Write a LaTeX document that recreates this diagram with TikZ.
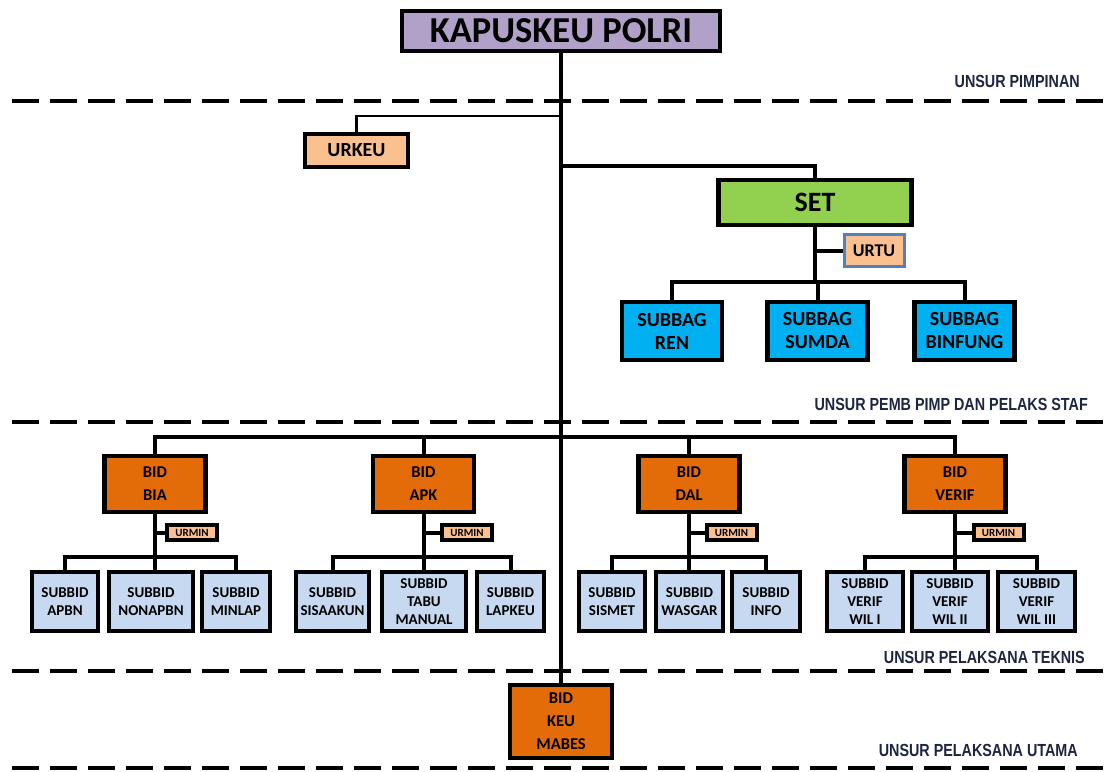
\documentclass[tikz,border=0pt]{standalone}
\usepackage{fontspec}
\setmainfont{Carlito}
\newfontfamily\lblfont[FakeStretch=0.82]{Liberation Sans}
\usetikzlibrary{shadows}
\definecolor{lav}{HTML}{B1A0C7}
\definecolor{peach}{HTML}{FAC090}
\definecolor{setgreen}{HTML}{92D050}
\definecolor{cyanbox}{HTML}{00B0F0}
\definecolor{bidor}{HTML}{E36C09}
\definecolor{subblue}{HTML}{C6D9F1}
\definecolor{urtuborder}{HTML}{4F81BD}
\definecolor{navy}{HTML}{1C2541}
\tikzset{
  box/.style={draw=black, line width=4.5pt, inner sep=0pt, align=center,
    text=black, font=\bfseries,
    drop shadow={shadow xshift=1.5pt, shadow yshift=-1.5pt, fill=black!25, opacity=0.6}},
  kapbox/.style={box, fill=lav, minimum width=318pt, minimum height=40pt,
    font=\bfseries\fontsize{36.5}{38}\selectfont},
  urbox/.style={box, fill=peach, minimum width=103pt, minimum height=33pt,
    font=\bfseries\fontsize{20}{22}\selectfont},
  setbox/.style={box, fill=setgreen, minimum width=193pt, minimum height=45pt,
    font=\bfseries\fontsize{28}{30}\selectfont},
  urtubox/.style={draw=urtuborder, line width=3pt, inner sep=0pt, align=center, text=black, fill=peach, minimum width=60pt, minimum height=32pt,
    font=\bfseries\fontsize{18}{20}\selectfont},
  bagbox/.style={box, fill=cyanbox, minimum width=100pt, minimum height=58pt,
    font=\bfseries\fontsize{20}{23}\selectfont},
  bidbox/.style={box, fill=bidor, minimum width=101pt, minimum height=56pt,
    font=\bfseries\fontsize{16.5}{23}\selectfont},
  urminbox/.style={box, line width=4pt, fill=peach, minimum width=50pt, minimum height=15pt,
    font=\bfseries\fontsize{11}{11}\selectfont},
  subbox/.style={box, fill=subblue, minimum height=59pt,
    font=\bfseries\fontsize{15}{18}\selectfont},
  conn/.style={line width=4pt, draw=black},
  thinconn/.style={line width=2.5pt, draw=black},
  sep/.style={line width=4pt, dash pattern=on 27pt off 11pt},
  lbl/.style={anchor=east, inner sep=0pt, text=navy, font=\lblfont\bfseries\fontsize{17.5}{19}\selectfont}
}
\begin{document}
\begin{tikzpicture}[x=1pt, y=-1pt]
\useasboundingbox (0,0) rectangle (1115,771);

% separators
\draw[sep] (12,101) -- (1112,101);
\draw[sep] (12,422) -- (1112,422);
\draw[sep] (12,671) -- (1112,671);
\draw[sep] (12,768) -- (1112,768);

% labels
\node[lbl] (l1) at (1080,81) {UNSUR PIMPINAN};
\node[lbl] (l2) at (1088,404) {UNSUR PEMB PIMP DAN PELAKS STAF};
\node[lbl] (l3) at (1085,657) {UNSUR PELAKSANA TEKNIS};
\node[lbl] (l4) at (1078,750) {UNSUR PELAKSANA UTAMA};

% coordinates
\coordinate (urkj) at (561,116);
\coordinate (setj) at (561,166);
\coordinate (bidbar) at (561,437);

% nodes top
\node[kapbox] (kap) at (561,31) {KAPUSKEU POLRI};
\node[bidbox, minimum width=102pt, minimum height=73pt] (keu) at (561,721.5) {BID\\KEU\\MABES};

% trunk
\draw[conn] (kap.south) -- (keu.north);

\node[urbox] (urkeu) at (356.5,150.5) {URKEU};
\draw[thinconn] (urkj) -| (urkeu.north);

\node[setbox] (set) at (815,202.5) {SET};
\draw[conn] (setj) -| (set.north);

\node[urtubox] (urtu) at (874,250.5) {URTU};
\node[bagbox] (ren) at (672,331) {SUBBAG\\REN};
\node[bagbox] (sumda) at (817.5,331) {SUBBAG\\SUMDA};
\node[bagbox] (binfung) at (964.5,331) {SUBBAG\\BINFUNG};
\coordinate (bagbar) at (815,282);
\draw[conn] (set.south) -- (bagbar);
\draw[conn] (set.south |- urtu) -- (urtu.west);
\draw[conn] (ren.north) |- (bagbar) -| (binfung.north);
\draw[conn] (sumda.north) -- (sumda.north |- bagbar);

% BID level
\node[bidbox] (bia) at (155,484) {BID\\BIA};
\node[bidbox] (apk) at (423.5,484) {BID\\APK};
\node[bidbox] (dal) at (689,484) {BID\\DAL};
\node[bidbox] (verif) at (955,484) {BID\\VERIF};
\draw[conn] (bia.north) |- (bidbar) -| (verif.north);
\draw[conn] (apk.north) -- (apk.north |- bidbar);
\draw[conn] (dal.north) -- (dal.north |- bidbar);

% URMIN
\node[urminbox] (ubia) at (192,532.5) {URMIN};
\node[urminbox] (uapk) at (467,532.5) {URMIN};
\node[urminbox] (udal) at (731.5,532.5) {URMIN};
\node[urminbox] (uverif) at (998.5,532.5) {URMIN};

% BIA subs
\node[subbox, minimum width=66pt] (apbn) at (65,601.5) {SUBBID\\APBN};
\node[subbox, minimum width=84pt] (nonapbn) at (151,601.5) {SUBBID\\NONAPBN};
\node[subbox, minimum width=68pt] (minlap) at (236,601.5) {SUBBID\\MINLAP};
\coordinate (biabar) at (155,557);
\draw[conn] (bia.south) -- (bia.south |- nonapbn.north);
\draw[conn] (bia.south |- ubia) -- (ubia.west);
\draw[conn] (apbn.north) |- (biabar) -| (minlap.north);

% APK subs
\node[subbox, minimum width=73pt] (sisaakun) at (332.5,601.5) {SUBBID\\SISAAKUN};
\node[subbox, minimum width=84pt] (tabu) at (424,601.5) {SUBBID\\TABU\\MANUAL};
\node[subbox, minimum width=67pt] (lapkeu) at (510.5,601.5) {SUBBID\\LAPKEU};
\coordinate (apkbar) at (423.5,557);
\draw[conn] (apk.south) -- (apk.south |- tabu.north);
\draw[conn] (apk.south |- uapk) -- (uapk.west);
\draw[conn] (sisaakun.north) |- (apkbar) -| (lapkeu.north);

% DAL subs
\node[subbox, minimum width=66pt] (sismet) at (612,601.5) {SUBBID\\SISMET};
\node[subbox, minimum width=67pt] (wasgar) at (689.5,601.5) {SUBBID\\WASGAR};
\node[subbox, minimum width=68pt] (info) at (766,601.5) {SUBBID\\INFO};
\coordinate (dalbar) at (689,557);
\draw[conn] (dal.south) -- (dal.south |- wasgar.north);
\draw[conn] (dal.south |- udal) -- (udal.west);
\draw[conn] (sismet.north) |- (dalbar) -| (info.north);

% VERIF subs
\node[subbox, minimum width=76pt] (wil1) at (865,601.5) {SUBBID\\VERIF\\WIL I};
\node[subbox, minimum width=76pt] (wil2) at (950,601.5) {SUBBID\\VERIF\\WIL II};
\node[subbox, minimum width=77pt] (wil3) at (1036.5,601.5) {SUBBID\\VERIF\\WIL III};
\coordinate (verifbar) at (955,557);
\draw[conn] (verif.south) -- (verif.south |- wil2.north);
\draw[conn] (verif.south |- uverif) -- (uverif.west);
\draw[conn] (wil1.north) |- (verifbar) -| (wil3.north);
\end{tikzpicture}
\end{document}
